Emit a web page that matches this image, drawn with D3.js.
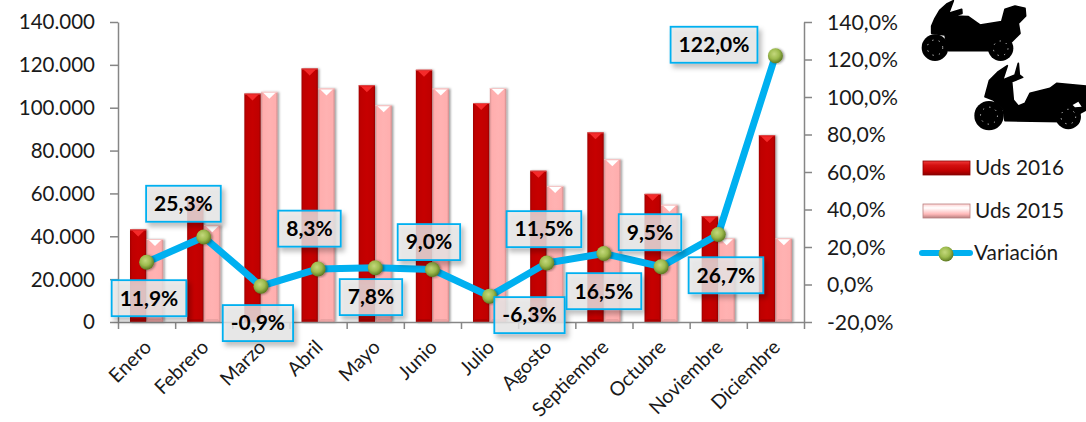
<!DOCTYPE html>
<html><head><meta charset="utf-8">
<script src="https://cdn.jsdelivr.net/npm/d3@7"></script>
<style>
html,body{margin:0;padding:0;background:#fff;overflow:hidden}
svg{display:block}
text{font-family:Lato,"Open Sans",sans-serif;fill:#1a1a1a}
</style></head><body>
<svg id="chart" width="1086" height="422"></svg>
<script>
const categories = ["Enero","Febrero","Marzo","Abril","Mayo","Junio","Julio","Agosto","Septiembre","Octubre","Noviembre","Diciembre"];
const uds2016 = [43200,57000,106600,118300,110500,117700,102200,70600,88500,59800,49400,87200];
const uds2015 = [38700,45200,107400,109000,101200,109000,109200,63500,76000,54700,39100,39100];
const variacion = [11.9,25.3,-0.9,8.3,8.9,8.0,-6.2,11.5,16.5,9.5,26.7,122.0];
const variacionLabels = ["11,9%","25,3%","-0,9%","8,3%","7,8%","9,0%","-6,3%","11,5%","16,5%","9,5%","26,7%","122,0%"];
const labelDx = [2.4,-20.3,-3,-8.6,-4.3,-3.5,39.9,-2.8,0,-11.1,7.7,-61.4];
const labelDy = [36,-33.3,36.9,-40.3,29.3,-27.4,19,-33.8,37.6,-34.5,40.8,-11];
const leftTicks = [0,20000,40000,60000,80000,100000,120000,140000];
const rightTicks = [-20,0,20,40,60,80,100,120,140];
const seriesNames = ["Uds 2016","Uds 2015"];
const lineName = "Variación";

const svg = d3.select("#chart");
const defs = svg.append("defs");
const L=118,R=804,T=22,B=322;
const x0 = d3.scaleBand().domain(categories).range([L,R]).paddingInner(0.42).paddingOuter(0.21);
const x1 = d3.scaleBand().domain(seriesNames).range([0,x0.bandwidth()]).paddingInner(0.03);
const xStep = d3.scaleLinear().domain([0,categories.length]).range([L,R]);
const yL = d3.scaleLinear().domain([0,140000]).range([B,T]);
const yR = d3.scaleLinear().domain([-20,140]).range([B,T]);
const cx = c => x0(c)+x0.bandwidth()/2;

function hGrad(id,stops){const g=defs.append("linearGradient").attr("id",id);
  stops.forEach(s=>g.append("stop").attr("offset",s[0]).attr("stop-color",s[1]));}
hGrad("red",[[0,"#a00000"],[.12,"#bf0000"],[.5,"#c60000"],[.88,"#bf0000"],[1,"#940000"]]);
hGrad("pink",[[0,"#d89494"],[.12,"#ffaeae"],[.5,"#ffb2b2"],[.88,"#ffaeae"],[1,"#cf8c8c"]]);
const vr=defs.append("linearGradient").attr("id","legRed").attr("x2",0).attr("y2",1);
[[0,"#f03a3a"],[.3,"#d41010"],[.7,"#c00000"],[1,"#8a0000"]].forEach(s=>vr.append("stop").attr("offset",s[0]).attr("stop-color",s[1]));
const vp=defs.append("linearGradient").attr("id","legPink").attr("x2",0).attr("y2",1);
[[0,"#ffd0d0"],[.28,"#ffffff"],[.5,"#ffdcdc"],[.72,"#ffb8b8"],[1,"#b98080"]].forEach(s=>vp.append("stop").attr("offset",s[0]).attr("stop-color",s[1]));
const rg=defs.append("radialGradient").attr("id","ball").attr("cx",.42).attr("cy",.38).attr("r",.62);
[[0,"#c4d87c"],[.55,"#9dbb4e"],[1,"#5e7a22"]].forEach(s=>rg.append("stop").attr("offset",s[0]).attr("stop-color",s[1]));
const sh=defs.append("filter").attr("id","barShadow").attr("x","-30%").attr("y","-10%").attr("width","170%").attr("height","120%");
sh.append("feDropShadow").attr("dx",1.5).attr("dy",0.5).attr("stdDeviation",1.3).attr("flood-color","#000").attr("flood-opacity",.4);
const bs=defs.append("filter").attr("id","boxShadow").attr("x","-20%").attr("y","-20%").attr("width","150%").attr("height","160%");
bs.append("feDropShadow").attr("dx",3).attr("dy",4).attr("stdDeviation",2.5).attr("flood-color","#000").attr("flood-opacity",.3);
const soft=defs.append("filter").attr("id","soft");
soft.append("feGaussianBlur").attr("stdDeviation",0.5);

const styles={
 "Uds 2016":{fill:"url(#red)",cap:"#f42a2a",capEdge:"#e05050",base:"#8e0000",legend:"url(#legRed)"},
 "Uds 2015":{fill:"url(#pink)",cap:"#ffffff",capEdge:"#f4c8c8",base:"#cf8f8f",legend:"url(#legPink)"}
};
function drawBars(name,values){
  const st=styles[name],w=x1.bandwidth();
  const g=svg.append("g");
  const items=categories.map((c,i)=>({c,v:values[i]}));
  const bar=g.selectAll("g").data(items).join("g")
    .attr("transform",d=>`translate(${x0(d.c)+x1(name)},${yL(d.v)})`)
    .attr("filter","url(#barShadow)");
  bar.append("rect").attr("width",w).attr("height",d=>B-yL(d.v)).attr("fill",st.fill);
  bar.append("rect").attr("width",w).attr("height",1).attr("fill",st.capEdge);
  bar.append("path").attr("d",`M2,1H${w-2}L${w/2},7Z`).attr("fill",st.cap);
  bar.append("path").attr("d",d=>{const h=B-yL(d.v);return `M0,${h}H${w}L${w-2.5},${h-3}H2.5Z`;}).attr("fill",st.base).attr("opacity",.4);
}
drawBars("Uds 2016",uds2016);
drawBars("Uds 2015",uds2015);

function styleAxis(g){g.select(".domain").attr("stroke","#868686").attr("stroke-width",1.5);
  g.selectAll("line").attr("stroke","#868686").attr("stroke-width",1.5);}
const fs=20.5;
const fmtL=d=>d===0?"0":d3.format(",")(d).replace(/,/g,".");
const gl=svg.append("g").attr("transform",`translate(${L},0)`).call(d3.axisLeft(yL).tickValues(leftTicks).tickFormat(fmtL).tickSize(8).tickSizeOuter(0).tickPadding(15)).call(styleAxis);
const gr=svg.append("g").attr("transform",`translate(${R},0)`).call(d3.axisRight(yR).tickValues(rightTicks).tickFormat(d=>d.toFixed(1).replace(".",",")+"%").tickSize(8).tickSizeOuter(0).tickPadding(15)).call(styleAxis);
const gb=svg.append("g").attr("transform",`translate(0,${B})`).call(d3.axisBottom(xStep).tickValues(d3.range(categories.length+1)).tickFormat("").tickSize(7).tickSizeOuter(0)).call(styleAxis);
gl.selectAll("text").attr("font-size",fs).attr("dy","0.34em");
gr.selectAll("text").attr("font-size",21.2).attr("dy","0.34em");
gl.attr("font-family",null);gr.attr("font-family",null);gb.attr("font-family",null);

const pts=categories.map((c,i)=>({c,v:variacion[i],i}));
const line=d3.line().x(d=>cx(d.c)).y(d=>yR(d.v));
svg.append("path").datum(pts).attr("d",line).attr("fill","none").attr("stroke","#00b0f0").attr("stroke-width",7).attr("stroke-linejoin","round");
svg.append("g").selectAll("circle").data(pts).join("circle")
  .attr("cx",d=>cx(d.c)).attr("cy",d=>yR(d.v)).attr("r",7.5).attr("fill","url(#ball)").attr("filter","url(#barShadow)");

const lab=svg.append("g").selectAll("g").data(pts).join("g")
  .attr("transform",d=>`translate(${cx(d.c)+labelDx[d.i]},${yR(d.v)+labelDy[d.i]})`);
const rects=lab.append("rect").attr("y",-18).attr("height",36).attr("fill","#e8e8e8").attr("fill-opacity",.8)
  .attr("stroke","#00b0f0").attr("stroke-width",1.8).attr("filter","url(#boxShadow)");
const ltxt=lab.append("text").attr("text-anchor","middle").attr("dy","0.35em").attr("font-size",21).attr("font-weight",700).style("fill","#000").text(d=>variacionLabels[d.i]);
ltxt.each(function(d){d.bw=this.getComputedTextLength()+16;});
rects.attr("x",d=>-d.bw/2).attr("width",d=>d.bw);

svg.append("g").selectAll("text").data(categories).join("text")
  .attr("transform",c=>`translate(${cx(c)+6},${B+26.5}) rotate(-45)`)
  .attr("text-anchor","end").attr("font-size",19.6).text(c=>c);

// legend
const lg=svg.append("g");
const legendY=d3.scaleOrdinal().domain([...seriesNames,lineName]).range([168,211,253]);
seriesNames.forEach(n=>{
  const st=styles[n],y=legendY(n),h=14,x=923,w=47;
  lg.append("rect").attr("x",x).attr("y",y-h/2).attr("width",w).attr("height",h).attr("fill",st.legend).attr("stroke",n==="Uds 2016"?"#8a0000":"#b98080").attr("stroke-width",.8);
  lg.append("text").attr("x",975).attr("y",y).attr("dy","0.35em").attr("font-size",20.8).text(n);
});
const ly=legendY(lineName);
lg.append("line").attr("x1",922).attr("x2",970).attr("y1",ly).attr("y2",ly).attr("stroke","#00b0f0").attr("stroke-width",6).attr("stroke-linecap","round");
lg.append("circle").attr("cx",946).attr("cy",ly+1).attr("r",7.5).attr("fill","url(#ball)");
lg.append("text").attr("x",974).attr("y",ly).attr("dy","0.35em").attr("font-size",20.8).text(lineName);

// motorcycle silhouettes (decorative)
function moto(body,wheels,extra){
  const g=svg.append("g").attr("transform","translate(890,0) scale(0.3333)").attr("filter","url(#soft)");
  g.append("path").attr("d",body).attr("fill","#000").attr("stroke","#000").attr("stroke-width",5).attr("stroke-linejoin","round");
  wheels.forEach(w=>{
    g.append("circle").attr("cx",w[0]).attr("cy",w[1]).attr("r",w[2]).attr("fill","#000");
    g.append("circle").attr("cx",w[0]).attr("cy",w[1]).attr("r",w[2]*.58).attr("fill","none").attr("stroke","#c8c8c8").attr("stroke-width",3).attr("stroke-dasharray","4 16");
  });
  if(extra) g.append("path").attr("d",extra).attr("fill","#fff");
}
moto("M125,78L135,55L150,30L170,12L190,2L176,40L215,28L216,40L190,48L235,50L270,75L335,65L345,28L375,18L405,25L407,48L385,70L390,100L365,125L300,152L175,152L165,105L125,100Z",[[135,143,40],[332,145,38]]);
moto("M285,290L298,242L325,215L352,197L338,240L375,225L385,190L388,225L398,232L365,245L370,300L385,318L405,310L420,280L480,265L500,250L588,258L588,330L560,345L520,365L345,362L340,330L310,300Z",[[297,347,44],[535,350,38]],"M548,315L565,305L575,320L555,322Z");
</script>
</body></html>
